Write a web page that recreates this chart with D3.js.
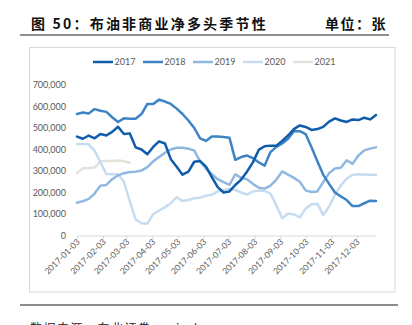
<!DOCTYPE html>
<html><head><meta charset="utf-8">
<script src="https://cdn.jsdelivr.net/npm/d3@7"></script>
<style>
html,body{margin:0;padding:0;background:#fff;overflow:hidden;}
svg{display:block;}
</style></head>
<body>
<svg id="c" width="412" height="325"></svg>
<script>
// ---- data ----
const weekDates = ["2017-01-03","2017-01-10","2017-01-17","2017-01-24","2017-01-31","2017-02-07","2017-02-14","2017-02-21","2017-02-28",
"2017-03-07","2017-03-14","2017-03-21","2017-03-28","2017-04-04","2017-04-11","2017-04-18","2017-04-25","2017-05-02","2017-05-09",
"2017-05-16","2017-05-23","2017-05-30","2017-06-06","2017-06-13","2017-06-20","2017-06-27","2017-07-04","2017-07-11","2017-07-18",
"2017-07-25","2017-08-01","2017-08-08","2017-08-15","2017-08-22","2017-08-29","2017-09-05","2017-09-12","2017-09-19","2017-09-26",
"2017-10-03","2017-10-10","2017-10-17","2017-10-24","2017-10-31","2017-11-07","2017-11-14","2017-11-21","2017-11-28","2017-12-05",
"2017-12-12","2017-12-19","2017-12-26"];
const seriesNames = ["2017","2018","2019","2020","2021"];
const s2017 = [460,450,465,452,472,465,482,506,472,475,410,400,378,412,438,428,355,320,283,297,343,346,320,272,225,200,205,235,260,297,340,398,415,418,418,440,465,495,512,505,491,495,505,530,545,535,528,540,537,548,540,560];
const s2018 = [565,572,567,588,580,575,550,528,545,543,543,565,612,612,632,623,612,590,565,535,500,452,440,460,460,458,455,352,365,372,360,340,325,388,412,428,450,485,485,472,410,345,282,240,200,182,165,137,137,150,162,160];
const s2019 = [152,160,170,195,232,235,262,280,290,295,297,302,318,345,365,385,400,408,408,404,395,345,310,285,262,248,235,285,268,262,240,222,218,232,260,298,283,268,250,210,202,205,248,290,312,315,350,333,372,396,404,410];
const s2020 = [426,426,424,395,340,286,285,285,250,160,75,57,55,100,115,132,150,178,160,165,173,176,185,190,205,212,218,212,200,190,205,208,208,195,140,80,102,98,84,125,145,148,95,135,190,232,265,282,285,284,283,282];
const s2021 = [290,313,314,316,345,347,347,349,345,338];
const yTicks = [0,100000,200000,300000,400000,500000,600000,700000];
const xTickLabels = ["2017-01-03","2017-02-03","2017-03-03","2017-04-03","2017-05-03","2017-06-03","2017-07-03","2017-08-03","2017-09-03","2017-10-03","2017-11-03","2017-12-03"];
const colors = ["#0f5cab","#3d84c6","#8fb8e0","#c8dcf0","#e3e1da"];
const titleText = "图 50：布油非商业净多头季节性";
const unitText = "单位：张";
const sourceText = "数据来源：东北证券，wind";

// ---- drawing ----
const svg = d3.select("#c");
const parse = d3.utcParse("%Y-%m-%d");
const dates = weekDates.map(parse);
const allSeries = [s2017,s2018,s2019,s2020,s2021];

const x = d3.scaleUtc().domain([dates[0], dates[dates.length-1]]).range([77, 376]);
const y = d3.scaleLinear().domain([0, 700000]).range([235.5, 85]);

// title
svg.append("text").attr("x", 31).attr("y", 29)
  .attr("font-family", "'Noto Sans CJK SC', sans-serif").attr("font-weight", "bold")
  .attr("font-size", 14).attr("letter-spacing", 2.2).attr("fill", "#111")
  .text(titleText);
svg.append("text").attr("x", 387).attr("y", 29).attr("text-anchor", "end")
  .attr("font-family", "'Noto Sans CJK SC', sans-serif").attr("font-weight", "bold")
  .attr("font-size", 14).attr("letter-spacing", 1.5).attr("fill", "#111")
  .text(unitText);
svg.append("line").attr("x1", 20).attr("x2", 389).attr("y1", 35).attr("y2", 35)
  .attr("stroke", "#222").attr("stroke-width", 1.2);

// chart frame
svg.append("rect").attr("x", 29.5).attr("y", 47.5).attr("width", 365.5).attr("height", 244.5)
  .attr("fill", "none").attr("stroke", "#d9d9d9").attr("stroke-width", 1);

// bottom rule + source
svg.append("line").attr("x1", 20).attr("x2", 398).attr("y1", 305).attr("y2", 305)
  .attr("stroke", "#8c8c8c").attr("stroke-width", 2);
svg.append("text").attr("x", 30).attr("y", 333)
  .attr("font-family", "'Noto Sans CJK SC', sans-serif")
  .attr("font-size", 12).attr("letter-spacing", 1.5).attr("fill", "#222")
  .text(sourceText);

// y axis (labels only)
const yAxis = d3.axisLeft(y).tickValues(yTicks).tickSize(0).tickPadding(0)
  .tickFormat(d => d === 0 ? "0" : d3.format(",")(d));
const yg = svg.append("g").attr("transform", "translate(66,0)").call(yAxis);
yg.select(".domain").remove();
yg.selectAll("text").attr("font-family", "Lato, 'Liberation Sans', sans-serif")
  .attr("font-size", 9).attr("fill", "#595959");

// x axis
const xTicks = xTickLabels.map(parse);
const xAxis = d3.axisBottom(x).tickValues(xTicks).tickSize(4).tickSizeOuter(0)
  .tickFormat(d3.utcFormat("%Y-%m-%d"));
const xg = svg.append("g").attr("transform", "translate(0,235.5)").call(xAxis);
xg.select(".domain").attr("stroke", "#d9d9d9");
xg.selectAll(".tick line").attr("stroke", "#d9d9d9");
xg.selectAll("text").attr("font-family", "Lato, 'Liberation Sans', sans-serif")
  .attr("font-size", 8.5).attr("fill", "#595959")
  .attr("text-anchor", "end").attr("dy", 0).attr("y", 0)
  .attr("transform", "translate(3,7) rotate(-45)");

// lines
const line = d3.line().x((d, i) => x(dates[i])).y(d => y(d * 1000));
const order = [4,3,2,1,0];
order.forEach(k => {
  svg.append("path").datum(allSeries[k]).attr("d", line)
    .attr("fill", "none").attr("stroke", colors[k]).attr("stroke-width", 2.5)
    .attr("stroke-linejoin", "round").attr("stroke-linecap", "round");
});

// legend
const lg = svg.append("g");
seriesNames.forEach((n, i) => {
  const lx = 93 + i * 50;
  lg.append("line").attr("x1", lx).attr("x2", lx + 20).attr("y1", 62).attr("y2", 62)
    .attr("stroke", colors[i]).attr("stroke-width", 2.5);
  lg.append("text").attr("x", lx + 21.5).attr("y", 65.2)
    .attr("font-family", "Lato, 'Liberation Sans', sans-serif")
    .attr("font-size", 9).attr("fill", "#595959").text(n);
});
</script>
</body></html>
